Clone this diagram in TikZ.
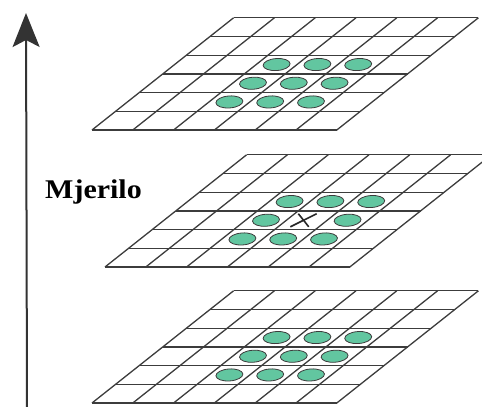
\documentclass[tikz,border=0pt]{standalone}
\usepackage{fontspec}
\newfontfamily\labelfont{Liberation Serif}
\usetikzlibrary{arrows.meta,shapes.geometric}
\definecolor{blobgreen}{RGB}{98,198,160}
\definecolor{gridgray}{RGB}{60,60,60}
\tikzset{
  layer/.style={x={(40.8pt,0pt)},y={(23.6pt,18.7pt)}},
  gridline/.style={gridgray,line width=1.3pt},
  blob/.style={ellipse,draw=gridgray,line width=0.8pt,fill=blobgreen,
    minimum width=27pt,minimum height=12pt,inner sep=0pt,rotate=4},
}

\begin{document}
\begin{tikzpicture}[x=1pt,y=1pt]
  \useasboundingbox (0,0) rectangle (482,407);
  \clip (0,0) rectangle (482,407);
  \coordinate (base) at (27,0);
  \coordinate (tip) at (26,394);
  \draw[line width=2pt,black!80,-{Stealth[length=34pt,width=27pt,inset=7pt]}] (base) -- (tip);
  \node[font=\labelfont\bfseries\fontsize{30}{34}\selectfont,anchor=base west,
    inner sep=0pt,yscale=0.9] (scale) at (45,208) {Mjerilo};

  \foreach \name/\sx/\sy/\hole in {low/92/4/0,mid/105/140/1,top/92/277/0} {
    \begin{scope}[shift={(\sx,\sy)},layer]
      \foreach \i in {0,...,6} {
        \draw[gridline] (\i,0) -- (\i,6);
        \draw[gridline] (0,\i) -- (6,\i);
      }
      \foreach \u in {2,3,4} \foreach \v in {1,2,3} {
        \pgfmathtruncatemacro\gap{\hole*(\u==3)*(\v==2)}
        \ifnum\gap=0
          \node[blob] (\name-\u-\v) at (\u+0.5,\v+0.5) {};
        \fi
      }
      \ifnum\hole=1
        \draw[line width=1.6pt,black!85] (3.30,2.15) -- (3.54,2.85);
        \draw[line width=1.6pt,black!85] (3.09,2.85) -- (3.75,2.15);
      \fi
    \end{scope}
  }
\end{tikzpicture}
\end{document}
